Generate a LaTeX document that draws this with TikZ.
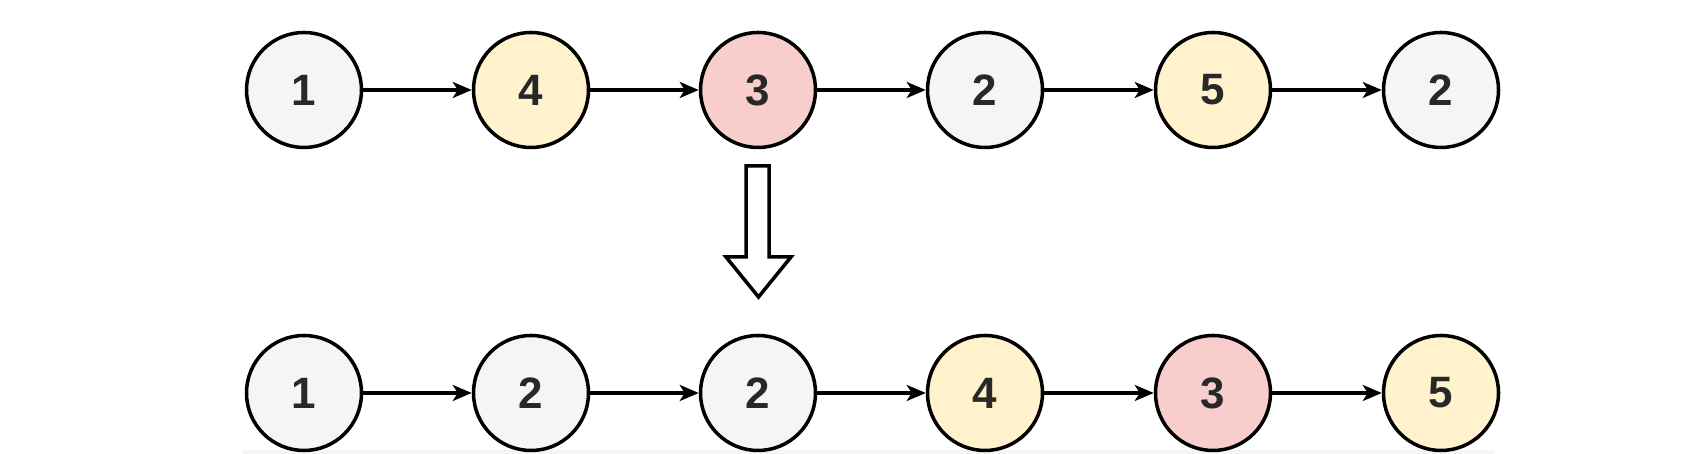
\documentclass[tikz,border=0pt]{standalone}
\usepackage{fontspec}
\setmainfont{Liberation Sans}
\usepackage{tikz}
\usetikzlibrary{arrows.meta}
\definecolor{plain}{RGB}{245, 245, 245}
\definecolor{warm}{RGB}{255, 242, 204}
\definecolor{hot}{RGB}{248, 206, 204}
\definecolor{digit}{RGB}{40, 40, 40}

\begin{document}
\begin{tikzpicture}[
    item/.style={circle, draw=black, line width=1pt, minimum size=1.15cm, inner sep=0pt,
                 font=\fontsize{12.5}{14}\selectfont\bfseries, text=digit},
    link/.style={-{Stealth[length=0.19cm, width=0.16cm, inset=0.05cm]}, line width=0.9pt}
  ]
  \useasboundingbox (0, 0) rectangle (17.06, 4.54);
  \fill[gray!8] (2.43, 0) rectangle (14.94, 0.04);

  \begin{scope}[shift={(0, 3.64)}]
    \node[item, fill=plain] (t1) at (3.04, 0) {1};
    \node[item, fill=warm]  (t2) at (5.31, 0) {4};
    \node[item, fill=hot]   (t3) at (7.58, 0) {3};
    \node[item, fill=plain] (t4) at (9.85, 0) {2};
    \node[item, fill=warm]  (t5) at (12.13, 0) {5};
    \node[item, fill=plain] (t6) at (14.41, 0) {2};
    \draw[link] (t1) -- (t2);
    \draw[link] (t2) -- (t3);
    \draw[link] (t3) -- (t4);
    \draw[link] (t4) -- (t5);
    \draw[link] (t5) -- (t6);
  \end{scope}

  % hollow arrow between the rows
  \draw[line width=1pt, line join=miter, fill=white]
    (7.46, 2.88) -- (7.69, 2.88) -- (7.69, 1.97) -- (7.91, 1.97) --
    (7.585, 1.57) -- (7.26, 1.97) -- (7.46, 1.97) -- cycle;

  \begin{scope}[shift={(0, 0.61)}]
    \node[item, fill=plain] (b1) at (3.04, 0) {1};
    \node[item, fill=plain] (b2) at (5.31, 0) {2};
    \node[item, fill=plain] (b3) at (7.58, 0) {2};
    \node[item, fill=warm]  (b4) at (9.85, 0) {4};
    \node[item, fill=hot]   (b5) at (12.13, 0) {3};
    \node[item, fill=warm]  (b6) at (14.41, 0) {5};
    \draw[link] (b1) -- (b2);
    \draw[link] (b2) -- (b3);
    \draw[link] (b3) -- (b4);
    \draw[link] (b4) -- (b5);
    \draw[link] (b5) -- (b6);
  \end{scope}

\end{tikzpicture}
\end{document}
